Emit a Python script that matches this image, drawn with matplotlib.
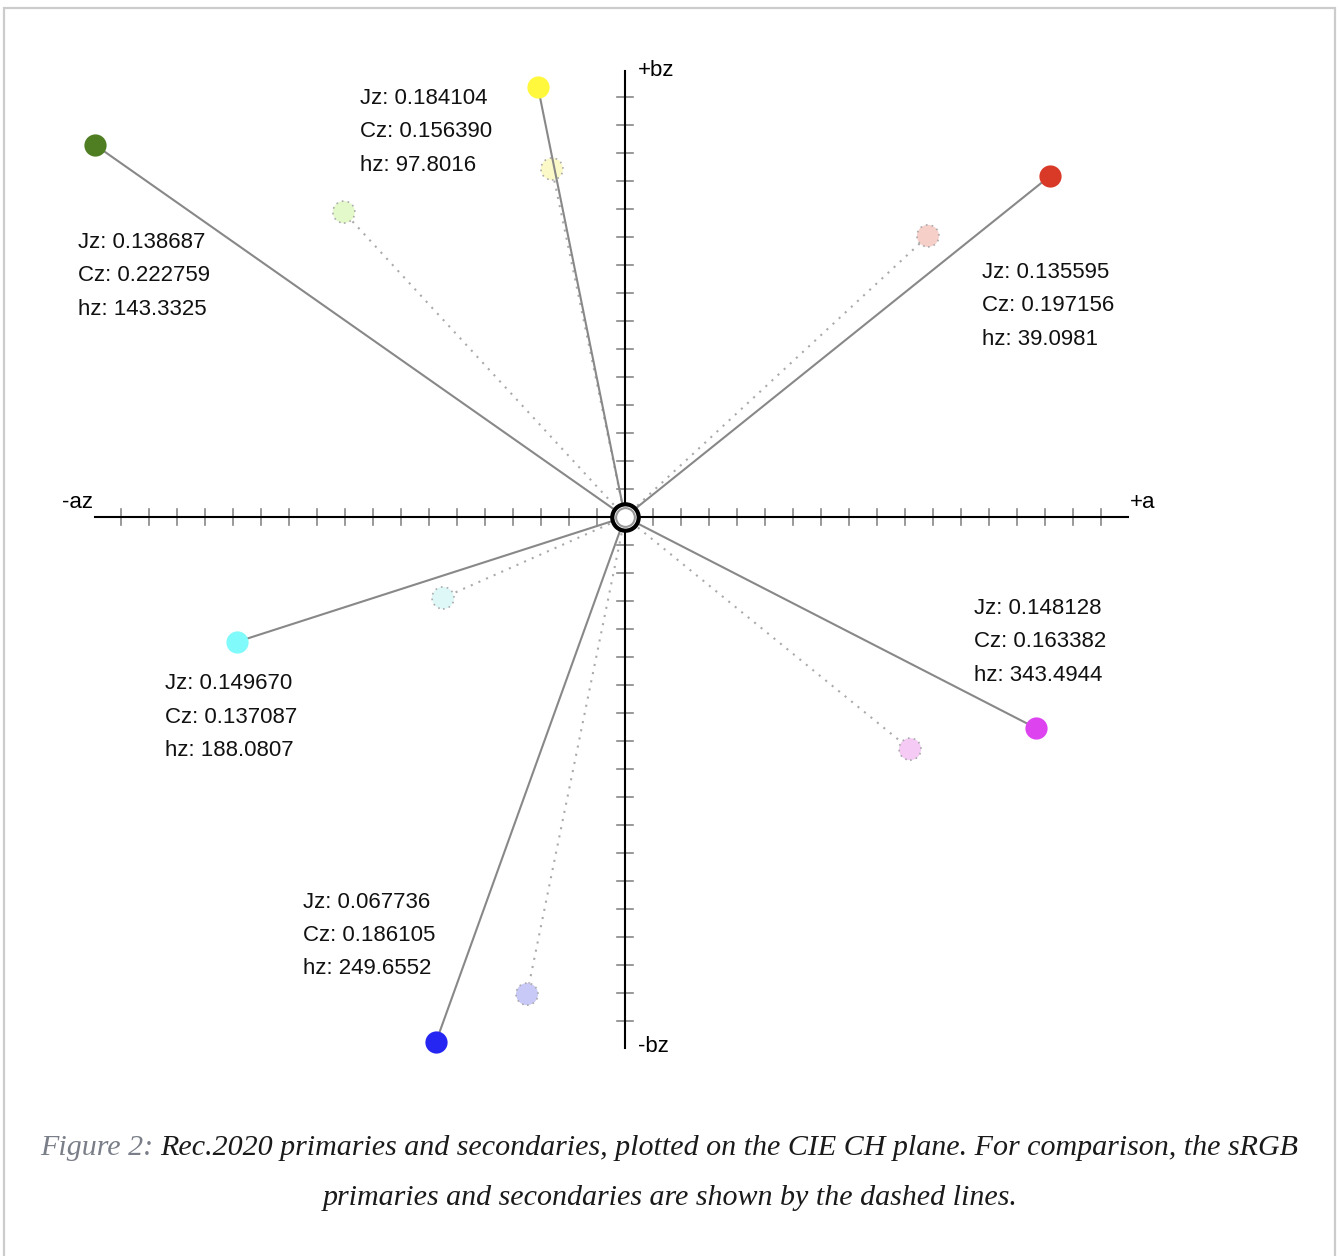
import matplotlib
matplotlib.use("Agg")
import matplotlib.pyplot as plt
from matplotlib.patches import Rectangle, Circle

W, H, DPI = 1339, 1256, 100
PX = 28.0          # pixels per tick unit
CX, CY = 625, 517  # axis origin in pixels (from top-left)

# Rec.2020 primaries / secondaries, positions in tick units (a, b)
rec_names = ["red", "yellow", "green", "cyan", "blue", "magenta"]
rec_a = [15.18, -3.11, -18.93, -13.86, -6.75, 14.68]
rec_b = [12.18, 15.36, 13.29, -4.46, -18.75, -7.54]
rec_colors = ["#d93a28", "#fff83c", "#4e7d22", "#80fafa", "#2626f2", "#dd44f0"]
rec_jz = ["0.135595", "0.184104", "0.138687", "0.149670", "0.067736", "0.148128"]
rec_cz = ["0.197156", "0.156390", "0.222759", "0.137087", "0.186105", "0.163382"]
rec_hz = ["39.0981", "97.8016", "143.3325", "188.0807", "249.6552", "343.4944"]
# label anchor (left, first line) in tick units
lab_x = [12.75, -9.46, -19.54, -16.43, -11.5, 12.46]
lab_y = [8.75, 14.96, 9.82, -5.96, -13.75, -3.25]

# sRGB primaries / secondaries
srgb_a = [10.82, -2.61, -10.04, -6.5, -3.5, 10.18]
srgb_b = [10.04, 12.43, 10.89, -2.89, -17.04, -8.29]
srgb_colors = ["#f6cfc9", "#fcf9c9", "#e3f9c9", "#def8f8", "#c9c9f8", "#f5caf5"]

x_ticks = list(range(-18, 18))
y_ticks = list(range(-18, 16))

fig = plt.figure(figsize=(W / DPI, H / DPI), dpi=DPI)
ax = fig.add_axes([0, 0, 1, 1])
ax.set_xlim(-CX / PX, (W - CX) / PX)
ax.set_ylim(-(H - CY) / PX, CY / PX)
ax.axis("off")

grey = "#888888"
tl = 8 / PX
for k in x_ticks:
    if k != 0:
        ax.plot([k, k], [-tl, tl], color=grey, lw=1.2, zorder=2)
for k in y_ticks:
    if k != 0:
        ax.plot([-tl, tl], [k, k], color=grey, lw=1.2, zorder=2)

ax.plot([(95 - CX) / PX, (1128 - CX) / PX], [0, 0], color="black", lw=1.5, zorder=3)
ax.plot([0, 0], [(CY - 1048) / PX, (CY - 71) / PX], color="black", lw=1.5, zorder=3)

font = ["Liberation Sans", "DejaVu Sans"]
fs = 16
ax.text(13 / PX, (CY - 70) / PX, "+bz", fontsize=fs, family=font, va="center", ha="left")
ax.text(13 / PX, (CY - 1047) / PX, "-bz", fontsize=fs, family=font, va="center", ha="left")
ax.text((93 - CX) / PX, (CY - 502) / PX, "-az", fontsize=fs, family=font, va="center", ha="right")
ax.text((1130 - CX) / PX, (CY - 502) / PX, "+a", fontsize=fs, family=font, va="center", ha="left")

# sRGB dotted lines and faded circles
r = 11 / PX
for a, b, c in zip(srgb_a, srgb_b, srgb_colors):
    ax.plot([0, a], [0, b], color="#aaaaaa", lw=1.5, ls=(0, (1, 3)), zorder=4)
    ax.add_patch(Circle((a, b), r, facecolor=c, edgecolor="#aaaaaa", lw=1.2,
                        ls=(0, (1, 2.5)), zorder=5))

# Rec.2020 solid lines and circles
for i in range(len(rec_names)):
    a, b = rec_a[i], rec_b[i]
    ax.plot([0, a], [0, b], color=grey, lw=1.5, zorder=6)
    ax.plot([a], [b], "o", ms=16, mfc=rec_colors[i], mec=rec_colors[i], mew=0, zorder=7)
    lines = [f"Jz: {rec_jz[i]}", f"Cz: {rec_cz[i]}", f"hz: {rec_hz[i]}"]
    for j, t in enumerate(lines):
        ax.text(lab_x[i], lab_y[i] - j * 33.5 / PX, t, fontsize=fs, family=font,
                va="center", ha="left", color="#111111")

# origin marker
ax.plot([0], [0], "o", ms=19, mfc="white", mec="black", mew=3.0, zorder=9)
ax.plot([0], [0], "o", ms=13.5, mfc="white", mec="#999999", mew=1.5, zorder=10)

# caption
serif = ["Liberation Serif", "DejaVu Serif"]
cfs = 21.6
cap1_a = "Figure 2: "
cap1_b = "Rec.2020 primaries and secondaries, plotted on the CIE CH plane. For comparison, the sRGB"
t1 = fig.text(40 / W, 1 - 1148 / H, cap1_a, fontsize=cfs, family=serif, style="italic",
              color="#7a7e88", va="center", ha="left")
fig.canvas.draw()
bb = t1.get_window_extent()
fig.text(bb.x1 / W, 1 - 1148 / H, cap1_b, fontsize=cfs, family=serif, style="italic",
         color="#1a1a1a", va="center", ha="left")
fig.text(670 / W, 1 - 1198 / H, "primaries and secondaries are shown by the dashed lines.",
         fontsize=cfs, family=serif, style="italic", color="#1a1a1a", va="center", ha="center")

# page border
fig.patches.append(Rectangle((4 / W, -0.05), (1335 - 4) / W, 1 - 8 / H + 0.05,
                             transform=fig.transFigure, fill=False,
                             edgecolor="#cccccc", lw=1.6))

fig.savefig("out.png", dpi=DPI)
